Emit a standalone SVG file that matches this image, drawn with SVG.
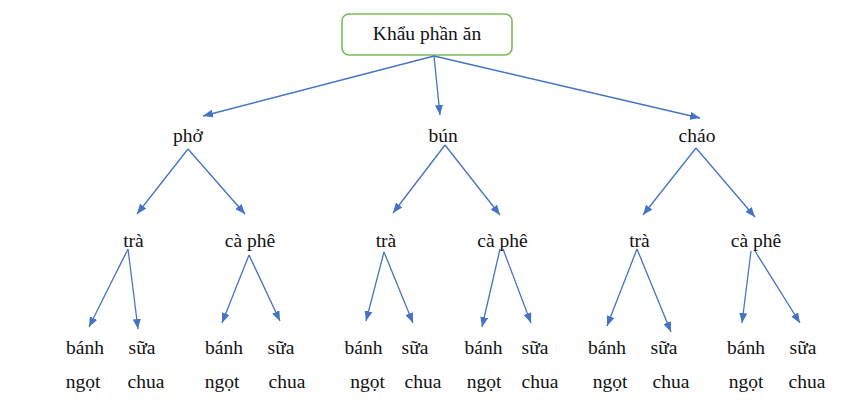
<svg xmlns="http://www.w3.org/2000/svg" width="868" height="400" viewBox="0 0 868 400">
<style>
text{font-size:19.5px;fill:#111;text-anchor:middle}
.c line{stroke:#4472C4;stroke-width:1.3;marker-end:url(#ah)}
</style>
<defs>
<marker id="ah" viewBox="0 0 10 8" refX="10" refY="4" markerWidth="10" markerHeight="8" markerUnits="userSpaceOnUse" orient="auto"><path d="M0,0 L10,4 L0,8 z" fill="#4472C4"/></marker>
</defs>
<rect width="868" height="400" fill="#fff"/>
<g font-family="'Liberation Serif', 'DejaVu Serif', 'Times New Roman', serif">
<g id="root"><rect x="342" y="14" width="170" height="41" rx="7" fill="#fff" stroke="#7DB95B" stroke-width="1.6"/><text x="427" y="40">Khẩu phần ăn</text></g>
<g id="pho"><text x="188" y="142">phở</text></g>
<g id="bun"><text x="443" y="142">bún</text></g>
<g id="chao"><text x="697" y="142">cháo</text></g>
<g id="tra1"><text x="133.5" y="247">trà</text></g>
<g id="caphe1"><text x="250" y="247">cà phê</text></g>
<g id="tra2"><text x="386" y="247">trà</text></g>
<g id="caphe2"><text x="502.5" y="247">cà phê</text></g>
<g id="tra3"><text x="639.5" y="247">trà</text></g>
<g id="caphe3"><text x="756" y="247">cà phê</text></g>
<g id="l1a"><text x="85" y="354">bánh</text><text x="83" y="388">ngọt</text></g>
<g id="l1b"><text x="142" y="354">sữa</text><text x="146" y="388">chua</text></g>
<g id="l2a"><text x="224" y="354">bánh</text><text x="222" y="388">ngọt</text></g>
<g id="l2b"><text x="281" y="354">sữa</text><text x="287" y="388">chua</text></g>
<g id="l3a"><text x="363.5" y="354">bánh</text><text x="367.5" y="388">ngọt</text></g>
<g id="l3b"><text x="415" y="354">sữa</text><text x="423" y="388">chua</text></g>
<g id="l4a"><text x="483.5" y="354">bánh</text><text x="484" y="388">ngọt</text></g>
<g id="l4b"><text x="535" y="354">sữa</text><text x="540" y="388">chua</text></g>
<g id="l5a"><text x="607" y="354">bánh</text><text x="610" y="388">ngọt</text></g>
<g id="l5b"><text x="664" y="354">sữa</text><text x="671" y="388">chua</text></g>
<g id="l6a"><text x="746" y="354">bánh</text><text x="746" y="388">ngọt</text></g>
<g id="l6b"><text x="803" y="354">sữa</text><text x="807" y="388">chua</text></g>
</g>
<g id="connectors" class="c">
<line x1="434" y1="56" x2="203" y2="116"/>
<line x1="434" y1="56" x2="440" y2="115"/>
<line x1="434" y1="56" x2="700" y2="118"/>
<line x1="188" y1="149" x2="137" y2="214"/>
<line x1="188" y1="149" x2="245" y2="214"/>
<line x1="445" y1="145" x2="393" y2="213"/>
<line x1="445" y1="145" x2="500" y2="215"/>
<line x1="696" y1="148" x2="643" y2="215"/>
<line x1="696" y1="148" x2="755" y2="217"/>
<line x1="128" y1="249" x2="89" y2="327"/>
<line x1="128" y1="249" x2="138" y2="329"/>
<line x1="249" y1="255" x2="222" y2="323"/>
<line x1="249" y1="255" x2="280" y2="321"/>
<line x1="384" y1="252" x2="366" y2="321"/>
<line x1="384" y1="252" x2="413" y2="323"/>
<line x1="500" y1="249" x2="482" y2="327"/>
<line x1="503" y1="249" x2="531" y2="323"/>
<line x1="637" y1="249" x2="607" y2="326"/>
<line x1="637" y1="249" x2="671" y2="332"/>
<line x1="751" y1="251" x2="742" y2="323"/>
<line x1="755" y1="251" x2="800" y2="323"/>
</g>
</svg>
